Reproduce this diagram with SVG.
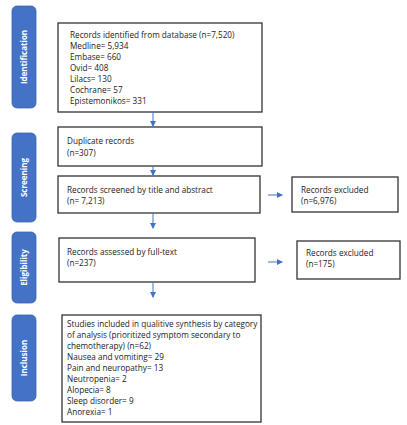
<svg xmlns="http://www.w3.org/2000/svg" width="407" height="425" viewBox="0 0 407 425">
<defs>
<marker id="ah" markerWidth="6" markerHeight="6" refX="5" refY="3" orient="auto" markerUnits="userSpaceOnUse">
<path d="M0,0 L6,3 L0,6 Z" fill="#4472C4"/>
</marker>
<style>
.tab{fill:#4472C4;stroke:#3a64b0;stroke-width:0.8}
.tt{fill:#fff;font-family:"Open Sans","Liberation Sans",sans-serif;font-weight:bold;font-size:8px;text-anchor:middle}
.box{fill:#fff;stroke:#333;stroke-width:1.3}
.t{fill:#222;font-family:"Open Sans","Liberation Sans",sans-serif;font-size:8.2px}
.c{stroke:#4472C4;stroke-width:1;fill:none;marker-end:url(#ah)}
</style>
</defs>
<rect width="407" height="425" fill="#fff"/>
<g id="tab-identification"><rect class="tab" x="12" y="6" width="24" height="102" rx="5"/><text class="tt" transform="translate(27,57) rotate(-90)">Identification</text></g>
<g id="tab-screening"><rect class="tab" x="12" y="133" width="24" height="89" rx="5"/><text class="tt" transform="translate(27,177.5) rotate(-90)">Screening</text></g>
<g id="tab-eligibility"><rect class="tab" x="12" y="232" width="24" height="71" rx="5"/><text class="tt" transform="translate(27,267.5) rotate(-90)">Eligibility</text></g>
<g id="tab-inclusion"><rect class="tab" x="12" y="315" width="24" height="86" rx="5"/><text class="tt" transform="translate(27,358) rotate(-90)">Inclusion</text></g>

<g id="identified"><rect class="box" x="58" y="23" width="204" height="89"/>
<text class="t" x="70" y="38">Records identified from database (n=7,520)</text>
<text class="t" x="70" y="49">Medline= 5,934</text>
<text class="t" x="70" y="60">Embase= 660</text>
<text class="t" x="70" y="71">Ovid= 408</text>
<text class="t" x="70" y="82">Lilacs= 130</text>
<text class="t" x="70" y="93">Cochrane= 57</text>
<text class="t" x="70" y="104">Epistemonikos= 331</text></g>

<g id="duplicates"><rect class="box" x="58" y="127" width="204" height="39"/>
<text class="t" x="67" y="144">Duplicate records</text>
<text class="t" x="67" y="156">(n=307)</text></g>

<g id="screened"><rect class="box" x="58" y="176" width="202" height="37"/>
<text class="t" x="67" y="193">Records screened by title and abstract</text>
<text class="t" x="67" y="204">(n= 7,213)</text></g>

<g id="excluded1"><rect class="box" x="292" y="177" width="106" height="35"/>
<text class="t" x="301" y="193">Records excluded</text>
<text class="t" x="301" y="204">(n=6,976)</text></g>

<g id="fulltext"><rect class="box" x="59" y="238" width="196" height="44"/>
<text class="t" x="67" y="255">Records assessed by full-text</text>
<text class="t" x="67" y="266">(n=237)</text></g>

<g id="excluded2"><rect class="box" x="297" y="241" width="103" height="38"/>
<text class="t" x="306" y="256">Records excluded</text>
<text class="t" x="306" y="267">(n=175)</text></g>

<g id="included"><rect class="box" x="62" y="315" width="199" height="107"/>
<text class="t" x="67" y="327">Studies included in qualitive synthesis by category</text>
<text class="t" x="67" y="338">of analysis (prioritized symptom secondary to</text>
<text class="t" x="67" y="349">chemotherapy) (n=62)</text>
<text class="t" x="67" y="360">Nausea and vomiting= 29</text>
<text class="t" x="67" y="371">Pain and neuropathy= 13</text>
<text class="t" x="67" y="382">Neutropenia= 2</text>
<text class="t" x="67" y="393">Alopecia= 8</text>
<text class="t" x="67" y="404">Sleep disorder= 9</text>
<text class="t" x="67" y="415">Anorexia= 1</text></g>

<g id="connectors">
<path class="c" d="M153,112 V126"/>
<path class="c" d="M153,166 V175"/>
<path class="c" d="M153,213 V228"/>
<path class="c" d="M153,282 V297"/>
<path class="c" d="M268,195 H282"/>
<path class="c" d="M268,262 H282"/>
</g>
</svg>
